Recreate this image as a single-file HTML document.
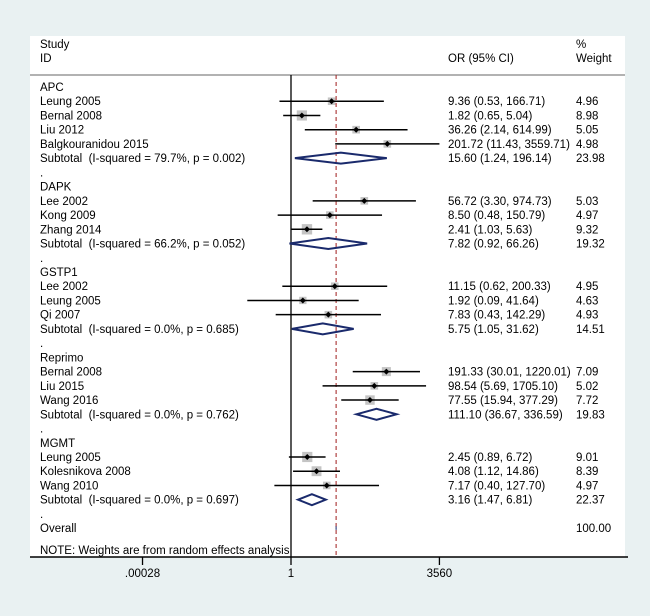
<!DOCTYPE html>
<html><head><meta charset="utf-8"><style>
html,body{margin:0;padding:0;background:#e9f1f2;}
svg{display:block;font-family:"Liberation Sans",Arial,sans-serif;}
text{white-space:pre;}
</style></head><body>
<svg id="c" width="650" height="616" viewBox="0 0 650 616" xmlns="http://www.w3.org/2000/svg">
<rect x="0" y="0" width="650" height="616" fill="#e9f1f2"/>
<rect x="30" y="36" width="595" height="521" fill="#ffffff"/>
<g font-size="11.5" fill="#000">
<text x="40" y="48">Study</text><text x="40" y="62">ID</text>
<text x="448" y="62">OR (95% CI)</text>
<text x="576" y="48">%</text><text x="576" y="62">Weight</text>
</g>
<line x1="30" y1="75" x2="625" y2="75" stroke="#999" stroke-width="1.5"/>
<g id="rows"></g>
<line x1="30" y1="557" x2="628" y2="557" stroke="#000" stroke-width="1.5"/>
<g id="axis"></g>
</svg>
<script>
const labels=["APC","Leung 2005","Bernal 2008","Liu 2012","Balgkouranidou 2015","Subtotal  (I-squared = 79.7%, p = 0.002)",".",
"DAPK","Lee 2002","Kong 2009","Zhang 2014","Subtotal  (I-squared = 66.2%, p = 0.052)",".",
"GSTP1","Lee 2002","Leung 2005","Qi 2007","Subtotal  (I-squared = 0.0%, p = 0.685)",".",
"Reprimo","Bernal 2008","Liu 2015","Wang 2016","Subtotal  (I-squared = 0.0%, p = 0.762)",".",
"MGMT","Leung 2005","Kolesnikova 2008","Wang 2010","Subtotal  (I-squared = 0.0%, p = 0.697)",".","Overall"];
const kinds=["h","s","s","s","s","d","b","h","s","s","s","d","b","h","s","s","s","d","b","h","s","s","s","d","b","h","s","s","s","d","b","o"];
const orVals=[null,9.36,1.82,36.26,201.72,15.60,null,null,56.72,8.50,2.41,7.82,null,null,11.15,1.92,7.83,5.75,null,null,191.33,98.54,77.55,111.10,null,null,2.45,4.08,7.17,3.16,null,12.0];
const loVals=[null,0.53,0.65,2.14,11.43,1.24,null,null,3.30,0.48,1.03,0.92,null,null,0.62,0.09,0.43,1.05,null,null,30.01,5.69,15.94,36.67,null,null,0.89,1.12,0.40,1.47,null,11.9];
const hiVals=[null,166.71,5.04,614.99,3559.71,196.14,null,null,974.73,150.79,5.63,66.26,null,null,200.33,41.64,142.29,31.62,null,null,1220.01,1705.10,377.29,336.59,null,null,6.72,14.86,127.70,6.81,null,12.1];
const weights=[null,4.96,8.98,5.05,4.98,23.98,null,null,5.03,4.97,9.32,19.32,null,null,4.95,4.63,4.93,14.51,null,null,7.09,5.02,7.72,19.83,null,null,9.01,8.39,4.97,22.37,null,100.00];
const overallOR=12.0;
const tickVals=[0.00028,1,3560];
const tickLabels=[".00028","1","3560"];

const NS="http://www.w3.org/2000/svg";
const X0=291,K=18.15,XMAX=3560;
const xs=v=>X0+K*Math.log(v);
const ys=i=>87+i*14.23;
const rows=document.getElementById('rows');
function mk(tag,attrs,parent){const e=document.createElementNS(NS,tag);for(const k in attrs)e.setAttribute(k,attrs[k]);(parent||rows).appendChild(e);return e;}
const fmt=v=>v.toFixed(2);
let l1=mk('line',{x1:X0,y1:75,x2:X0,y2:557,stroke:'#000','stroke-width':1.3});


let l2=mk('line',{x1:xs(overallOR),y1:75,x2:xs(overallOR),y2:557,stroke:'#a01c1c','stroke-width':1,'stroke-dasharray':'4,3'});


labels.forEach((lab,i)=>{
  const y=ys(i);
  const g=mk('g',{});
  
  
  const t=mk('text',{x:40,y:y+4,'font-size':11.5},g);t.textContent=lab;
  const k=kinds[i];
  if(k==='s'||k==='d'){
    const ot=mk('text',{x:448,y:y+4,'font-size':11.5},g);ot.textContent=fmt(orVals[i])+' ('+fmt(loVals[i])+', '+fmt(hiVals[i])+')';
  }
  if(weights[i]!==null){const wt=mk('text',{x:576,y:y+4,'font-size':11.5},g);wt.textContent=fmt(weights[i]);}
  if(k==='s'){
    const hi=Math.min(hiVals[i],XMAX);
    const x1=xs(loVals[i]),x2=xs(hi);
    const s=3.4*Math.sqrt(weights[i]);
    const b=mk('rect',{x:xs(orVals[i])-s/2,y:y-s/2,width:s,height:s,fill:'#c4c4c4'},g);
    
    
    const ci=mk('line',{x1:x1,y1:y,x2:x2,y2:y,stroke:'#000','stroke-width':1.5},g);
    
    
    if(hiVals[i]>XMAX){
      const ar=mk('path',{d:`M${x2-6},${y-4} L${x2},${y} L${x2-6},${y+4}`,fill:'none',stroke:'#000','stroke-width':1.5},g);
      
      
    }
    const d=mk('path',{d:`M${xs(orVals[i])-3},${y} l3,-3 l3,3 l-3,3z`,fill:'#000'},g);
    
    
  }
  if(k==='d'||k==='o'){
    const c=xs(orVals[i]),a=xs(loVals[i]),b2=xs(hiVals[i]),h=k==='d'?5.5:2;
    const dm=mk('path',{d:`M${a},${y} L${c},${y-h} L${b2},${y} L${c},${y+h}Z`,fill:'none',stroke:'#1a2a6c','stroke-width':k==='d'?2:0.8},g);
    
    
  }
});
const note=mk('text',{x:40,y:554,'font-size':11.5});note.textContent='NOTE: Weights are from random effects analysis';


const ax=document.getElementById('axis');
tickVals.forEach((v,i)=>{
  const x=xs(v);
  const tk=mk('line',{x1:x,y1:557,x2:x,y2:565,stroke:'#000','stroke-width':1.3},ax);
  
  
  const tl=mk('text',{x:x,y:577,'font-size':11.5,'text-anchor':'middle'},ax);tl.textContent=tickLabels[i];
  
  
});
</script>
</body></html>
